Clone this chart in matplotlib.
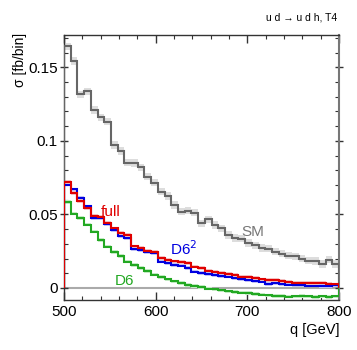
import numpy as np
import matplotlib
matplotlib.use("Agg")
import matplotlib.pyplot as plt
from matplotlib.ticker import MultipleLocator, FuncFormatter

plt.rcParams['font.family'] = ['Liberation Sans', 'DejaVu Sans']

# 41 bins between 500 and 800 GeV
q_lo, q_hi, n_bins = 500, 800, 41

sm = [0.1642, 0.1544, 0.1317, 0.1336, 0.1211, 0.1161, 0.1131, 0.0973, 0.0932, 0.0852,
      0.0850, 0.0821, 0.0757, 0.0717, 0.0655, 0.0626, 0.0565, 0.0519, 0.0526, 0.0512,
      0.0440, 0.0467, 0.0429, 0.0406, 0.0360, 0.0340, 0.0336, 0.0306, 0.0290, 0.0272,
      0.0268, 0.0247, 0.0234, 0.0219, 0.0216, 0.0200, 0.0186, 0.0184, 0.0163, 0.0192,
      0.0163]
full = [0.0722, 0.0645, 0.0590, 0.0545, 0.0490, 0.0485, 0.0440, 0.0405, 0.0372, 0.0360,
        0.0283, 0.0275, 0.0252, 0.0243, 0.0202, 0.0190, 0.0180, 0.0178, 0.0168, 0.0145,
        0.0134, 0.0118, 0.0111, 0.0104, 0.0095, 0.0088, 0.0077, 0.0073, 0.0066, 0.0059,
        0.0054, 0.0054, 0.0048, 0.0043, 0.0036, 0.0036, 0.0032, 0.0032, 0.0036, 0.0027,
        0.0025]
d6sq = [0.0702, 0.0671, 0.0612, 0.0555, 0.0474, 0.0475, 0.0432, 0.0392, 0.0350, 0.0340,
        0.0265, 0.0255, 0.0246, 0.0235, 0.0179, 0.0168, 0.0156, 0.0152, 0.0134, 0.0111,
        0.0100, 0.0095, 0.0088, 0.0082, 0.0077, 0.0066, 0.0059, 0.0054, 0.0048, 0.0043,
        0.0027, 0.0032, 0.0027, 0.0023, 0.0020, 0.0020, 0.0016, 0.0016, 0.0014, 0.0014,
        0.0018]
d6 = [0.0583, 0.0505, 0.0475, 0.0430, 0.0383, 0.0327, 0.0281, 0.0243, 0.0218, 0.0179,
      0.0156, 0.0134, 0.0116, 0.0090, 0.0073, 0.0058, 0.0045, 0.0032, 0.0020, 0.0012,
      0.0005, -0.0005, -0.0010, -0.0016, -0.0024, -0.0026, -0.0031, -0.0036, -0.0040, -0.0045,
      -0.0050, -0.0054, -0.0055, -0.0059, -0.0058, -0.0056, -0.0057, -0.0061, -0.0058, -0.0060,
      -0.0058]

# rough size of the MC error bands
sm_err = 0.0025
bsm_err = 0.0012

edges = np.linspace(q_lo, q_hi, n_bins + 1)

fig = plt.figure(figsize=(3.57, 3.5), dpi=100)
ax = fig.add_axes([64/357, 1 - 300/350, 275/357, 265/350])

ax.axhline(0, color='#aaaaaa', lw=1.5, zorder=1)

series = [
    (sm, sm_err, '#666666', '#dddddd'),
    (d6, bsm_err, '#22a822', '#c8eec8'),
    (d6sq, bsm_err, '#0000e0', '#c8c8f4'),
    (full, bsm_err, '#e00000', '#f4c8c8'),
]
for vals, err, col, band in series:
    v = np.array(vals)
    ax.stairs(v + err, edges, baseline=v - err, fill=True, color=band, lw=0, zorder=2)
for vals, err, col, band in series:
    ax.stairs(vals, edges, color=col, lw=1.5, zorder=3)

ax.text(706, 0.038, 'SM', color='#777777', fontsize=11, ha='center', va='center')
ax.text(551, 0.0515, 'full', color='#e00000', fontsize=11, ha='center', va='center')
ax.text(631, 0.0265, 'D6$^2$', color='#0000e0', fontsize=11, ha='center', va='center')
ax.text(566, 0.0050, 'D6', color='#22a822', fontsize=11, ha='center', va='center')

ax.set_xlim(q_lo, q_hi)
ax.set_ylim(-0.0082, 0.172)
ax.xaxis.set_major_locator(MultipleLocator(100))
ax.xaxis.set_minor_locator(MultipleLocator(20))
ax.yaxis.set_major_locator(MultipleLocator(0.05))
ax.yaxis.set_minor_locator(MultipleLocator(0.01))
ax.yaxis.set_major_formatter(FuncFormatter(lambda y, p: '0' if abs(y) < 1e-9 else f'{y:g}'))

ax.tick_params(which='both', direction='in', top=True, right=True, labelsize=11, color='#333333')
ax.tick_params(which='major', length=6, width=1)
ax.tick_params(which='minor', length=3, width=0.8)
ax.tick_params(axis='y', which='major', direction='inout', length=6, pad=1.5)
for s in ax.spines.values():
    s.set_color('#333333')
    s.set_linewidth(1)
ax.spines['right'].set_color('#777777')
ax.spines['right'].set_linewidth(1.5)

fig.text(20/357, 1 - 33/350, 'σ [fb/bin]', rotation=90, ha='center', va='top', fontsize=10)
fig.text(339/357, 1 - 330/350, 'q [GeV]', ha='right', va='center', fontsize=10.5)
fig.text(337/357, 1 - 17/350, 'u d → u d h, T4', ha='right', va='center', fontsize=7.5)

fig.savefig('out.png', dpi=100)
